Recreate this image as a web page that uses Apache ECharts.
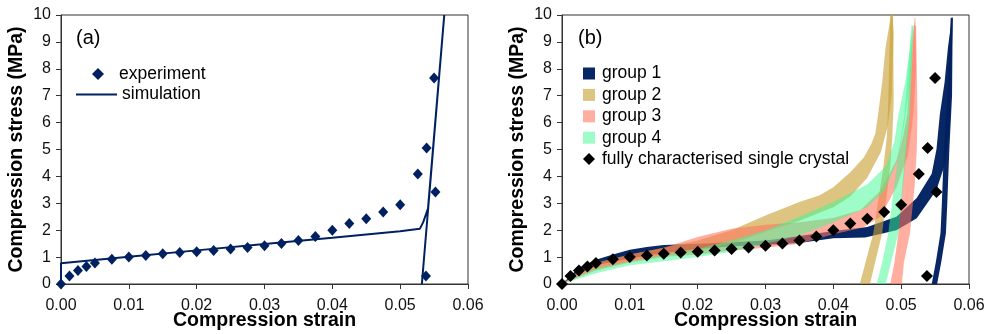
<!DOCTYPE html>
<html>
<head>
<meta charset="utf-8">
<script src="https://cdn.jsdelivr.net/npm/echarts@6/dist/echarts.min.js"></script>
<style>
  html, body { margin: 0; padding: 0; background: #fff; }
  #chart { width: 988px; height: 334px; }
</style>
</head>
<body>
<div id="chart"></div>
<script>
// --- data (strain, stress in MPa) ---

const xTicks = [0, 0.01, 0.02, 0.03, 0.04, 0.05, 0.06];
const yTicks = [0, 1, 2, 3, 4, 5, 6, 7, 8, 9, 10];

// experiment / fully characterised single crystal
const expStrain = [0, 0.00125, 0.0025, 0.00375, 0.005, 0.0075, 0.01, 0.0125, 0.015, 0.0175, 0.02, 0.0225, 0.025, 0.0275,
    0.03, 0.0325, 0.035, 0.0375, 0.04, 0.0425, 0.045, 0.0475, 0.05, 0.0526, 0.0539, 0.055, 0.0552, 0.0538];
const expStress = [0, 0.3, 0.5, 0.65, 0.78, 0.92, 1.0, 1.06, 1.12, 1.17, 1.2, 1.25, 1.3, 1.36,
    1.42, 1.51, 1.62, 1.77, 2.0, 2.25, 2.43, 2.68, 2.95, 4.09, 5.06, 7.66, 3.42, 0.3];

// simulation (loading then unloading)
const simStrain = [0, 0, 0.01, 0.02, 0.03, 0.04, 0.05, 0.0529, 0.0534, 0.0541, 0.0565, 0.0532];
const simStress = [0, 0.77, 1.01, 1.25, 1.49, 1.72, 1.96, 2.05, 2.3, 2.8, 10, 0];

// groups: loading band = upper edge + lower edge, unloading band = right edge + left edge
const g1LoadUpper = [[0, 0], [0.0025, 0.6], [0.005, 0.9], [0.0075, 1.1], [0.01, 1.27], [0.0125, 1.38], [0.015, 1.45], [0.02, 1.5],
    [0.025, 1.55], [0.03, 1.62], [0.035, 1.78], [0.04, 1.97], [0.045, 2.12], [0.0493, 2.5], [0.0523, 3.2], [0.0545, 4.1],
    [0.0552, 5.0], [0.0557, 6.3], [0.0564, 7.5], [0.0569, 8.8], [0.0575, 9.9]];
const g1LoadLower = [[0, 0], [0.0025, 0.4], [0.005, 0.7], [0.01, 0.95], [0.015, 1.15], [0.02, 1.3], [0.025, 1.4], [0.03, 1.45],
    [0.035, 1.52], [0.04, 1.7], [0.0447, 1.73], [0.0493, 2.0], [0.0523, 2.44], [0.0552, 3.49], [0.0565, 4.49], [0.0572, 6.0],
    [0.0576, 9.9]];
const g1UnloadRight = [[0.0576, 9.9], [0.0575, 7.0], [0.0571, 5.0], [0.0568, 3.0], [0.0566, 1.9], [0.0559, 0.8], [0.0553, 0]];
const g1UnloadLeft = [[0.0573, 9.9], [0.0568, 7.0], [0.0563, 5.0], [0.056, 3.0], [0.0558, 1.9], [0.0551, 0.8], [0.0545, 0]];

const g2LoadUpper = [[0, 0], [0.0025, 0.5], [0.005, 0.8], [0.01, 1.1], [0.015, 1.35], [0.02, 1.62], [0.025, 2.0], [0.03, 2.55],
    [0.035, 3.05], [0.038, 3.3], [0.04, 3.6], [0.0425, 4.15], [0.0445, 4.7], [0.0456, 5.2], [0.0462, 5.6], [0.0466, 6.3],
    [0.0472, 7.5], [0.0477, 8.8], [0.0485, 10]];
const g2LoadLower = [[0, 0], [0.0025, 0.3], [0.005, 0.55], [0.01, 0.85], [0.015, 1.05], [0.02, 1.22], [0.025, 1.5], [0.03, 1.95],
    [0.035, 2.35], [0.04, 2.85], [0.0425, 3.25], [0.045, 3.95], [0.047, 4.9], [0.048, 5.85], [0.0486, 7.0], [0.0489, 9.3],
    [0.0487, 10]];
const g2UnloadRight = [[0.0488, 10], [0.0489, 6.8], [0.0487, 5.5], [0.0484, 4.4], [0.0472, 1.9], [0.0454, 0]];
const g2UnloadLeft = [[0.0484, 10], [0.0481, 6.8], [0.0479, 5.5], [0.0474, 4.4], [0.0459, 1.9], [0.0439, 0]];

const g3LoadUpper = [[0, 0], [0.005, 0.75], [0.01, 1.1], [0.015, 1.35], [0.02, 1.75], [0.025, 2.05], [0.03, 2.2], [0.035, 2.3],
    [0.04, 2.45], [0.044, 2.75], [0.0469, 3.45], [0.0493, 4.6], [0.0503, 5.5], [0.0509, 6.3], [0.0515, 8.76], [0.052, 9.9]];
const g3LoadLower = [[0, 0], [0.005, 0.5], [0.01, 0.8], [0.015, 1.0], [0.02, 1.1], [0.025, 1.25], [0.03, 1.35], [0.035, 1.5],
    [0.04, 1.85], [0.0444, 2.1], [0.0469, 2.5], [0.0493, 3.6], [0.051, 4.8], [0.0518, 6.3], [0.0522, 8.0], [0.0521, 9.9]];
const g3UnloadRight = [[0.0522, 9.6], [0.0524, 6.3], [0.0523, 5.0], [0.052, 3.7], [0.0513, 1.9], [0.0504, 0.8], [0.0501, 0]];
const g3UnloadLeft = [[0.0519, 9.6], [0.0512, 6.3], [0.0506, 5.0], [0.0502, 3.7], [0.0496, 1.9], [0.049, 0.8], [0.0484, 0]];

const g4LoadUpper = [[0, 0], [0.005, 0.6], [0.01, 0.85], [0.015, 1.1], [0.02, 1.3], [0.025, 1.62], [0.03, 2.0], [0.035, 2.5],
    [0.04, 3.05], [0.045, 3.7], [0.0478, 4.4], [0.049, 5.3], [0.0496, 6.3], [0.0506, 7.5], [0.0513, 8.76], [0.0517, 9.6]];
const g4LoadLower = [[0, 0], [0.005, 0.4], [0.01, 0.7], [0.015, 0.85], [0.02, 1.0], [0.025, 1.2], [0.03, 1.5], [0.035, 1.8],
    [0.04, 2.3], [0.045, 2.85], [0.0475, 3.45], [0.0495, 4.6], [0.0505, 6.0], [0.0513, 7.5], [0.0518, 9.6]];
const g4UnloadRight = [[0.0518, 9.6], [0.0513, 6.3], [0.0508, 5.0], [0.0503, 3.7], [0.0496, 1.9], [0.0485, 0.8], [0.0477, 0]];
const g4UnloadLeft = [[0.0515, 9.6], [0.0505, 6.3], [0.0497, 5.0], [0.049, 3.7], [0.0481, 1.9], [0.0472, 0.8], [0.0464, 0]];

const groupNames = ['group 1', 'group 2', 'group 3', 'group 4'];
const groupColors = ['rgba(0,32,96,0.97)', 'rgba(200,160,50,0.62)', 'rgba(255,120,95,0.6)', 'rgba(60,250,145,0.5)'];

// --- helpers ---

function pairs(xs, ys) {
    return xs.map((x, i) => [x, ys[i]]);
}

function band(a, b) {
    return a.concat(b.slice().reverse());
}

function bandSeries(name, color, polys) {
    return {
        name: name,
        type: 'custom',
        xAxisIndex: 1,
        yAxisIndex: 1,
        itemStyle: { color: color },
        data: polys.map((p, i) => [i]),
        renderItem: function (params, api) {
            const pts = polys[params.dataIndex].map(p => api.coord(p));
            return {
                type: 'polygon',
                shape: { points: pts },
                style: { fill: color, stroke: null }
            };
        }
    };
}

const font = 'Liberation Sans';

function axisX(grid) {
    return {
        gridIndex: grid, type: 'value', min: xTicks[0], max: xTicks[xTicks.length - 1], interval: 0.01,
        name: 'Compression strain', nameLocation: 'middle', nameGap: 27, nameMoveOverlap: false,
        nameTextStyle: { fontSize: 19.5, fontWeight: 'bold', color: '#000', fontFamily: font },
        axisLine: { lineStyle: { color: '#333', width: 1 } },
        axisTick: { inside: false, length: 5, lineStyle: { color: '#333' } },
        axisLabel: { fontSize: 16, color: '#111', margin: 14, fontFamily: font, formatter: v => v.toFixed(2) },
        splitLine: { show: false }
    };
}

function axisY(grid) {
    return {
        gridIndex: grid, type: 'value', min: yTicks[0], max: yTicks[yTicks.length - 1], interval: 1,
        name: 'Compression stress (MPa)', nameLocation: 'middle', nameGap: 34, nameMoveOverlap: false,
        nameTextStyle: { fontSize: 19.5, fontWeight: 'bold', color: '#000', fontFamily: font },
        axisLine: { lineStyle: { color: '#333', width: 1 } },
        axisTick: { inside: false, length: 5, lineStyle: { color: '#333' } },
        axisLabel: { fontSize: 16, color: '#111', margin: 10, fontFamily: font },
        splitLine: { show: false }
    };
}

const groupLoads = [[g1LoadUpper, g1LoadLower, g1UnloadRight, g1UnloadLeft],
    [g2LoadUpper, g2LoadLower, g2UnloadRight, g2UnloadLeft],
    [g3LoadUpper, g3LoadLower, g3UnloadRight, g3UnloadLeft],
    [g4LoadUpper, g4LoadLower, g4UnloadRight, g4UnloadLeft]];

const series = [
    {
        name: 'experiment', type: 'scatter', xAxisIndex: 0, yAxisIndex: 0,
        symbol: 'diamond', symbolSize: [10, 11],
        itemStyle: { color: '#002060', opacity: 1 },
        data: pairs(expStrain, expStress), z: 3
    },
    {
        name: 'simulation', type: 'line', xAxisIndex: 0, yAxisIndex: 0,
        symbol: 'none', lineStyle: { color: '#002060', width: 2 }, itemStyle: { color: '#002060' },
        data: pairs(simStrain, simStress), z: 2
    }
];

groupLoads.forEach((g, i) => {
    series.push(bandSeries(groupNames[i], groupColors[i], [band(g[0], g[1]), band(g[2], g[3])]));
});

series.push({
    name: 'fully characterised single crystal', type: 'scatter', xAxisIndex: 1, yAxisIndex: 1,
    symbol: 'diamond', symbolSize: [12, 12],
    itemStyle: { color: '#000', opacity: 1 },
    data: pairs(expStrain, expStress), z: 5
});

const legendText = { fontSize: 17.5, color: '#000', fontFamily: font };

const option = {
    animation: false,
    backgroundColor: '#fff',
    textStyle: { fontFamily: font },
    title: [
        { text: '(a)', left: 71, top: 23, textStyle: { fontSize: 20, fontWeight: 'normal', color: '#000', fontFamily: font } },
        { text: '(b)', left: 573, top: 23, textStyle: { fontSize: 20, fontWeight: 'normal', color: '#000', fontFamily: font } }
    ],
    grid: [
        { left: 61, top: 15, width: 407, height: 269, show: true, borderColor: '#333', borderWidth: 1, outerBoundsMode: 'none' },
        { left: 562, top: 15, width: 407, height: 269, show: true, borderColor: '#333', borderWidth: 1, outerBoundsMode: 'none' }
    ],
    legend: [
        {
            orient: 'vertical', left: 87, top: 60, itemWidth: 12, itemHeight: 12,
            textStyle: Object.assign({ padding: [0, 0, 0, 10] }, legendText),
            data: [{ name: 'experiment', icon: 'diamond' }]
        },
        {
            orient: 'vertical', left: 71, top: 80.5, itemWidth: 41, itemHeight: 2,
            textStyle: legendText,
            data: [{ name: 'simulation', icon: 'rect' }]
        },
        {
            orient: 'vertical', left: 578, top: 59.5, itemWidth: 12, itemHeight: 12, itemGap: 3.4,
            textStyle: Object.assign({ padding: [0, 0, 0, 2] }, legendText),
            data: groupNames.map(n => ({ name: n, icon: 'rect' }))
                .concat([{ name: 'fully characterised single crystal', icon: 'diamond' }])
        }
    ],
    xAxis: [axisX(0), axisX(1)],
    yAxis: [axisY(0), axisY(1)],
    series: series
};

const chart = echarts.init(document.getElementById('chart'), null, { renderer: 'canvas' });
chart.setOption(option);
</script>
</body>
</html>
